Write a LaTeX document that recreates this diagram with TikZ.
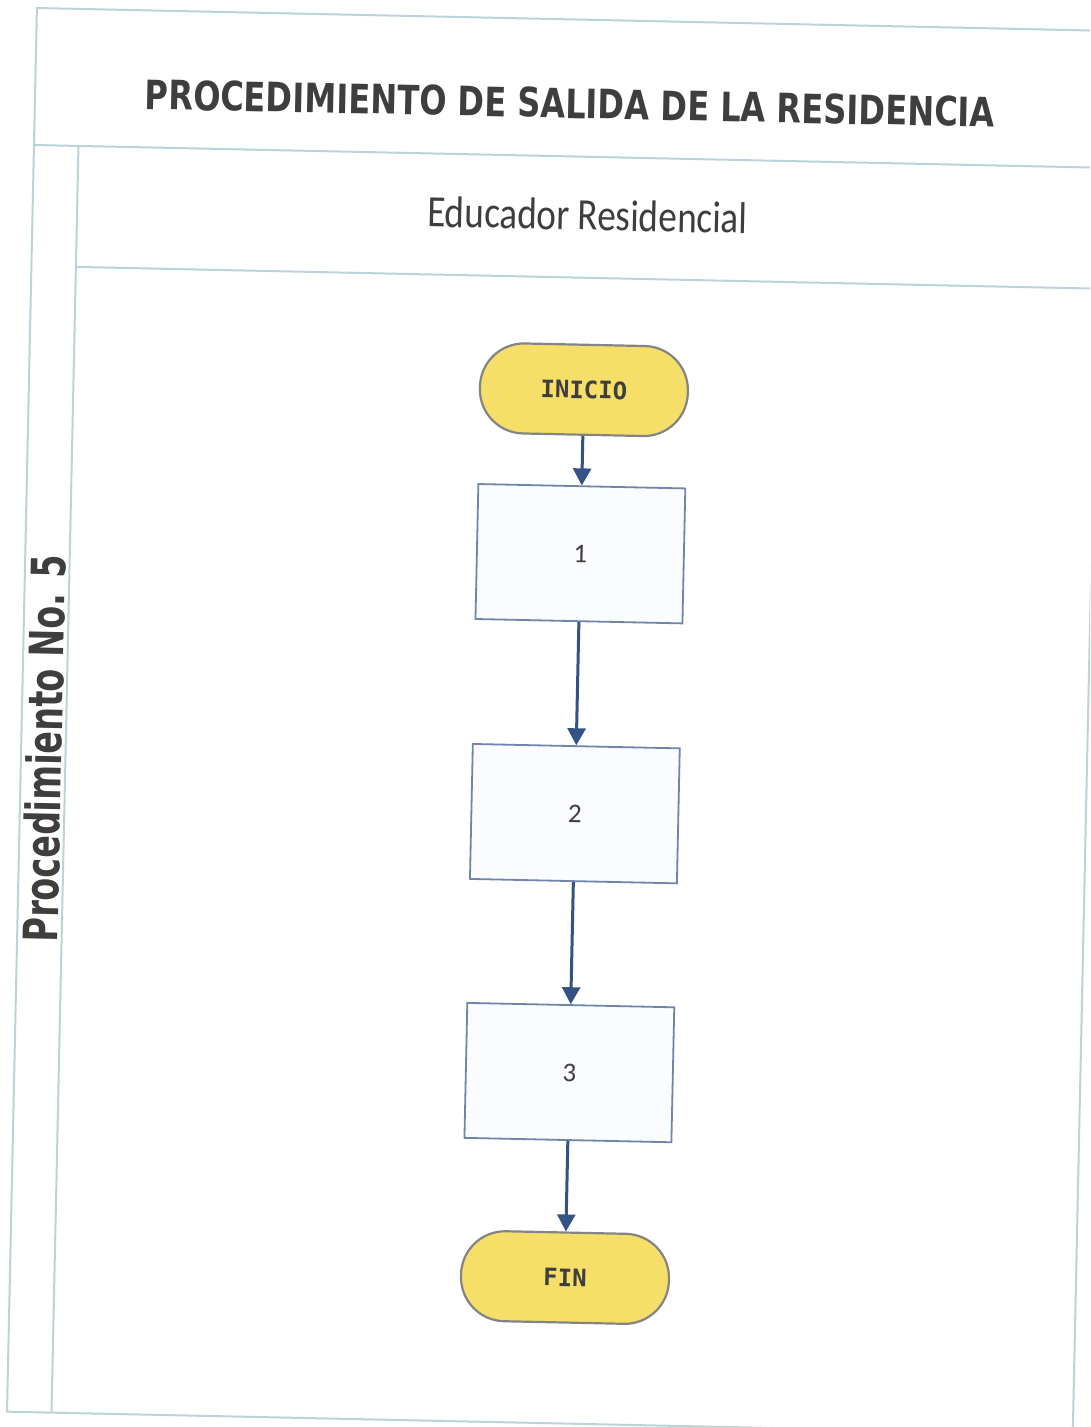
\documentclass[tikz,border=0pt]{standalone}
\usepackage{fontspec}
\usetikzlibrary{arrows.meta}

\newfontfamily\headfont{DejaVu Sans}
\newfontfamily\laneheadfont{Carlito}
\newfontfamily\numfont{Carlito}
\newfontfamily\termfont{DejaVu Sans Mono}

\definecolor{frameline}{RGB}{188,212,216}
\definecolor{boxline}{RGB}{112,132,172}
\definecolor{boxfill}{RGB}{250,252,255}
\definecolor{termfill}{RGB}{246,223,104}
\definecolor{termline}{RGB}{132,132,132}
\definecolor{flowblue}{RGB}{52,82,132}
\definecolor{inktext}{RGB}{62,62,62}

\tikzset{
  lane/.style={draw=frameline, line width=2pt},
  stepbox/.style={draw=boxline, fill=boxfill, line width=1.8pt,
    minimum width=207pt, minimum height=135pt, inner sep=0pt,
    font=\numfont\fontsize{27}{27}\selectfont, text=inktext},
  terminal/.style={draw=termline, fill=termfill, line width=2.2pt,
    rounded corners=44pt, minimum width=208pt, minimum height=90pt,
    inner sep=0pt, font=\termfont\bfseries\fontsize{24}{24}\selectfont,
    text=inktext},
  flow/.style={draw=flowblue, line width=3pt,
    -{Triangle[width=18pt,length=17pt]}},
}

\begin{document}
\begin{tikzpicture}[x=1pt,y=1pt]
\clip (0,0) rectangle (1090,1427);
\fill[white] (0,0) rectangle (1090,1427);

\begin{scope}[rotate around={-1.22:(545,714)}, transform shape]
  % swimlane frame
  \draw[lane] (22,4) rectangle (1088,1408);
  \draw[lane] (22,1271) -- (1088,1271);
  \draw[lane] (66.5,4) -- (66.5,1271);
  \draw[lane] (66.5,1150) -- (1088,1150);

  % headings
  \node[text=inktext] (title) at (557,1324)
    {\resizebox{850pt}{30pt}{\headfont\bfseries PROCEDIMIENTO DE SALIDA DE LA RESIDENCIA}};
  \node[text=inktext] (role) at (577,1213)
    {\resizebox{320pt}{31pt}{\laneheadfont Educador Residencial}};
  \node[text=inktext, rotate=90] (proc) at (45,668)
    {\resizebox{387pt}{36pt}{\headfont\bfseries Procedimiento No. 5}};

  % flow
  \node[terminal] (inicio) at (577,1038) {INICIO};
  \node[stepbox]  (s1)     at (577,874)  {1};
  \node[stepbox]  (s2)     at (577,614)  {2};
  \node[stepbox]  (s3)     at (577,355)  {3};
  \node[terminal] (fin)    at (577,150)  {FIN};

  \draw[flow] (inicio) -- (s1);
  \draw[flow] (s1) -- (s2);
  \draw[flow] (s2) -- (s3);
  \draw[flow] (s3) -- (fin);
\end{scope}
\end{tikzpicture}
\end{document}
